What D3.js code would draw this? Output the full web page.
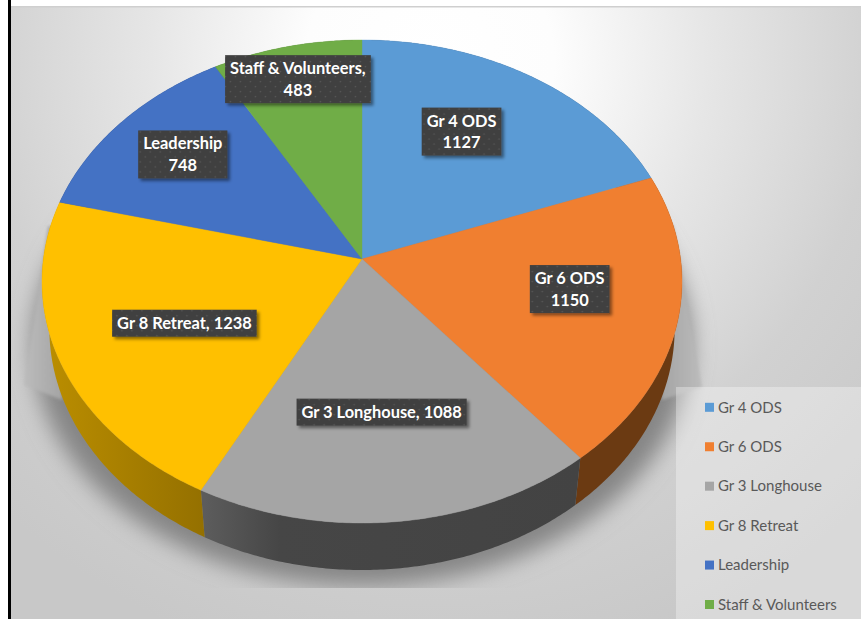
<!DOCTYPE html>
<html>
<head>
<meta charset="utf-8">
<title>3D pie chart</title>
<script src="https://cdn.jsdelivr.net/npm/d3@7"></script>
<style>
  html, body { margin: 0; padding: 0; background: #fff; }
  svg { display: block; }
  text { font-family: Lato, "Open Sans", sans-serif; }
</style>
</head>
<body>
<div id="chart"></div>
<script>
// Chart data
const categories = ['Gr 4 ODS', 'Gr 6 ODS', 'Gr 3 Longhouse', 'Gr 8 Retreat', 'Leadership', 'Staff & Volunteers'];
const values = [1127, 1150, 1088, 1238, 748, 483];
const topColors = ['#5b9bd5', '#f07f30', '#a5a5a5', '#ffc000', '#4472c4', '#70ad47'];
const sideColors = ['#34597a', '#6b3a12', '#464646', '#a67d00', '#27426f', '#41642a'];
const labelLines = [
    ['Gr 4 ODS', '1127'],
    ['Gr 6 ODS', '1150'],
    ['Gr 3 Longhouse, 1088'],
    ['Gr 8 Retreat, 1238'],
    ['Leadership', '748'],
    ['Staff & Volunteers,', '483']
];
// Label offsets from the slice anchor, the labels were dragged by hand in the original
const labelNudge = [[-8, -11], [14, -9], [-2, -3.5], [7, 2], [-27, -18], [-16, -44]];

const width = 861;
const height = 619;

const svg = d3.select('#chart')
    .append('svg')
    .attr('width', width)
    .attr('height', height);

const defs = svg.append('defs');

// Page background gradient
const bg = defs.append('radialGradient')
    .attr('id', 'bg')
    .attr('gradientUnits', 'userSpaceOnUse')
    .attr('cx', 430).attr('cy', 60).attr('r', 620);
[[0, '#ffffff'], [0.2, '#fdfdfd'], [0.45, '#e6e6e6'], [0.72, '#d1d1d1'], [1, '#c8c8c8']].forEach(s => {
    bg.append('stop').attr('offset', s[0]).attr('stop-color', s[1]);
});

const yellowSide = defs.append('linearGradient')
    .attr('id', 'side3')
    .attr('gradientUnits', 'userSpaceOnUse')
    .attr('x1', 45).attr('x2', 205).attr('y1', 0).attr('y2', 0);
yellowSide.append('stop').attr('offset', 0).attr('stop-color', '#bb8e00');
yellowSide.append('stop').attr('offset', 1).attr('stop-color', '#947000');

const graySide = defs.append('linearGradient')
    .attr('id', 'side2')
    .attr('gradientUnits', 'userSpaceOnUse')
    .attr('x1', 205).attr('x2', 580).attr('y1', 0).attr('y2', 0);
graySide.append('stop').attr('offset', 0).attr('stop-color', '#5c5c5c');
graySide.append('stop').attr('offset', 0.2).attr('stop-color', '#464646');
graySide.append('stop').attr('offset', 1).attr('stop-color', '#434343');

const wedgeLeft = defs.append('linearGradient')
    .attr('id', 'wedgeLeft')
    .attr('x1', 1).attr('x2', 0).attr('y1', 0.4).attr('y2', 0.4);
wedgeLeft.append('stop').attr('offset', 0).attr('stop-color', '#a4a4a4');
wedgeLeft.append('stop').attr('offset', 1).attr('stop-color', '#bcbcbc');

const wedgeRight = defs.append('linearGradient')
    .attr('id', 'wedgeRight')
    .attr('x1', 0).attr('x2', 1).attr('y1', 0.4).attr('y2', 0.4);
wedgeRight.append('stop').attr('offset', 0).attr('stop-color', '#a4a4a4');
wedgeRight.append('stop').attr('offset', 1).attr('stop-color', '#bcbcbc');

defs.append('filter').attr('id', 'blurWide')
    .attr('x', '-20%').attr('y', '-20%').attr('width', '140%').attr('height', '140%')
    .append('feGaussianBlur').attr('stdDeviation', 11);

defs.append('filter').attr('id', 'blurThin')
    .append('feGaussianBlur').attr('stdDeviation', 1.5);

defs.append('clipPath').attr('id', 'shadowClip')
    .append('rect').attr('x', 11).attr('y', 7).attr('width', width).attr('height', 581);

const boxShadow = defs.append('filter').attr('id', 'boxShadow')
    .attr('x', '-10%').attr('y', '-20%').attr('width', '125%').attr('height', '150%');
boxShadow.append('feDropShadow')
    .attr('dx', 2.5).attr('dy', 2.5).attr('stdDeviation', 1.5)
    .attr('flood-color', '#000').attr('flood-opacity', 0.45);

// Dotted fill of the data labels
const dots = defs.append('pattern').attr('id', 'dots')
    .attr('patternUnits', 'userSpaceOnUse')
    .attr('width', 10).attr('height', 10);
dots.append('rect').attr('width', 10).attr('height', 10).attr('fill', '#404040');
dots.append('circle').attr('cx', 2.5).attr('cy', 2.5).attr('r', 0.8).attr('fill', '#5a5a5a');
dots.append('circle').attr('cx', 7.5).attr('cy', 7.5).attr('r', 0.8).attr('fill', '#5a5a5a');

// Frame and background
svg.append('rect').attr('width', width).attr('height', height).attr('fill', '#fff');
svg.append('rect')
    .attr('x', 11).attr('y', 7)
    .attr('width', width - 11).attr('height', height - 7)
    .attr('fill', 'url(#bg)');
svg.append('rect').attr('x', 11).attr('y', 6).attr('width', width - 11).attr('height', 1.5).attr('fill', '#cfcfcf');
svg.append('rect').attr('x', 8).attr('y', 0).attr('width', 3).attr('height', height).attr('fill', '#000');

// Tilted disc: a circle under a perspective projection, the near edge comes out bigger
const cx = 362;
const cy = 259;
const rx = 318.6;
const ry = 239.4;
const tilt = 0.0932;
const depth = 47;
const bottomShrink = 0.977;

function project(angle, f = 1) {
    const u = Math.sin(angle) * f;
    const v = -Math.cos(angle) * f;
    const w = 1 - tilt * v;
    return [cx + rx * u / w, cy + ry * v / w];
}

function lower(p) {
    return [cx + (p[0] - cx) * bottomShrink, p[1] + depth];
}

function arcPoints(a0, a1) {
    const n = Math.max(2, Math.ceil((a1 - a0) / 0.01));
    return d3.range(n + 1).map(i => project(a0 + (a1 - a0) * i / n));
}

const line = d3.line();
const slices = d3.pie().sort(null).value(d => d)(values);
const fullCircle = arcPoints(0, 2 * Math.PI);

// Cast shadow behind the disc
const shadow = svg.append('g').attr('clip-path', 'url(#shadowClip)');
shadow.append('path')
    .attr('d', line(fullCircle.map(p => [cx + (p[0] - cx) * 1.03, p[1] + depth + 16])) + 'Z')
    .attr('fill', '#858585')
    .attr('filter', 'url(#blurWide)');
shadow.append('path')
    .attr('d', line([[48, 226], [24, 385], [62, 400], [62, 226]]) + 'Z')
    .attr('fill', 'url(#wedgeLeft)')
    .attr('filter', 'url(#blurThin)');
shadow.append('path')
    .attr('d', line([[673, 225], [702, 387], [662, 400], [662, 225]]) + 'Z')
    .attr('fill', 'url(#wedgeRight)')
    .attr('filter', 'url(#blurThin)');

// Disc wall, drawn first so the top face covers the far half
svg.append('g')
    .selectAll('path')
    .data(slices)
    .enter()
    .append('path')
    .attr('d', d => {
        const top = arcPoints(d.startAngle, d.endAngle);
        return line(top.concat(top.slice().reverse().map(lower))) + 'Z';
    })
    .attr('fill', (d, i) => (i === 2 || i === 3) ? `url(#side${i})` : sideColors[i]);

// Top face
svg.append('g')
    .selectAll('path')
    .data(slices)
    .enter()
    .append('path')
    .attr('d', d => line([[cx, cy]].concat(arcPoints(d.startAngle, d.endAngle))) + 'Z')
    .attr('fill', (d, i) => topColors[i])
    .attr('stroke', (d, i) => topColors[i])
    .attr('stroke-width', 0.4);

// Legend panel
const legendY = d3.scalePoint()
    .domain(categories)
    .range([407.3, 604.5]);

svg.append('rect')
    .attr('x', 676).attr('y', 387)
    .attr('width', width - 676).attr('height', height - 387)
    .attr('fill', '#fff').attr('fill-opacity', 0.32);

const legend = svg.append('g')
    .selectAll('g')
    .data(categories)
    .enter()
    .append('g')
    .attr('transform', d => `translate(705,${legendY(d)})`);

legend.append('rect')
    .attr('y', -4.5)
    .attr('width', 9)
    .attr('height', 9)
    .attr('fill', (d, i) => topColors[i]);

legend.append('text')
    .attr('x', 13)
    .attr('dy', '0.35em')
    .attr('fill', '#595959')
    .style('font-size', '15px')
    .text(d => d);

// Data labels, placed from each slice's middle angle
const labels = svg.append('g')
    .selectAll('g')
    .data(slices)
    .enter()
    .append('g')
    .attr('transform', (d, i) => {
        const p = project((d.startAngle + d.endAngle) / 2, 0.62);
        return `translate(${p[0] + labelNudge[i][0]},${p[1] + labelNudge[i][1]})`;
    });

labels.append('text')
    .attr('text-anchor', 'middle')
    .attr('fill', '#fff')
    .style('font-size', '16.4px')
    .style('font-weight', 700)
    .selectAll('tspan')
    .data((d, i) => labelLines[i].map((t, k, all) => ({ t, k, n: all.length })))
    .enter()
    .append('tspan')
    .attr('x', 0)
    .attr('y', d => (d.k - (d.n - 1) / 2) * 21.5)
    .attr('dy', '0.35em')
    .text(d => d.t);

// Boxes are sized from the measured text, then moved behind it
labels.each(function () {
    const g = d3.select(this);
    const b = g.select('text').node().getBBox();
    const padX = 5;
    const h = b.height > 30 ? 48 : 27;
    g.insert('rect', 'text')
        .attr('x', b.x - padX)
        .attr('y', -h / 2)
        .attr('width', b.width + padX * 2)
        .attr('height', h)
        .attr('fill', 'url(#dots)')
        .attr('filter', 'url(#boxShadow)');
});
</script>
</body>
</html>
